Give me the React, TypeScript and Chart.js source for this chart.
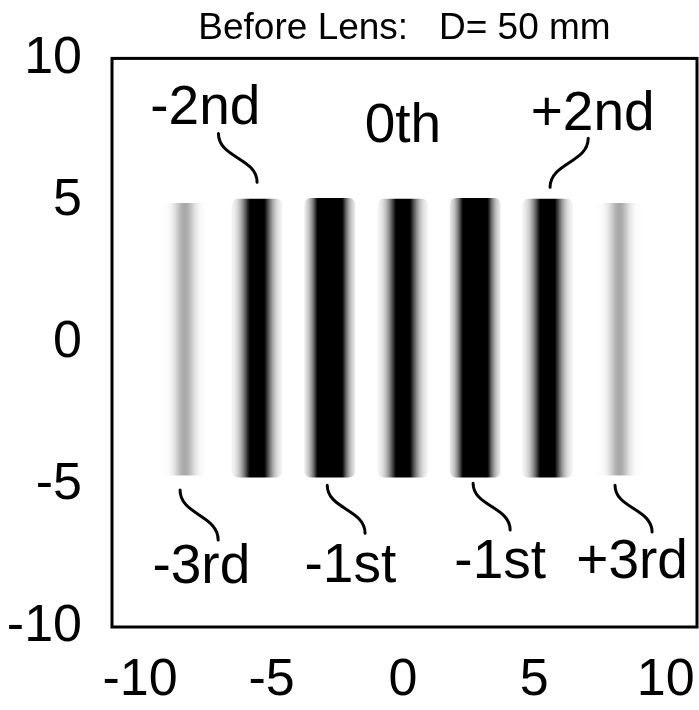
import React, { useEffect, useRef } from "react";
import { Chart, registerables } from "chart.js";

Chart.register(...registerables);

// ---- data ----
const titleText = "Before Lens:   D= 50 mm";
const xTicks = [-10, -5, 0, 5, 10];
const yTicks = [-10, -5, 0, 5, 10];

// diffraction orders (stripes)
const orderNames = ["-3rd", "-2nd", "-1st", "0th", "+1st", "+2nd", "+3rd"];
const stripeCenters = [-8.3, -5.55, -2.78, 0, 2.75, 5.5, 8.23];
const stripeBottom = [-4.66, -4.73, -4.73, -4.73, -4.73, -4.73, -4.66];
const stripeTop = [4.9, 5.05, 5.08, 5.05, 5.08, 5.05, 4.9];
const stripeIntensity = [0.34, 1.35, 2.2, 1.3, 2.2, 1.35, 0.34];

// annotation labels (x centre, baseline y)
const labelTexts = ["-2nd", "0th", "+2nd", "-3rd", "-1st", "-1st", "+3rd"];
const labelX = [-7.52, 0, 7.22, -7.67, -2.0, 3.7, 8.72];
const labelY = [7.71, 7.05, 7.47, -8.45, -8.42, -8.28, -8.28];

// leader curves
const leaderStartX = [-7.02, 7.05, -8.48, -2.88, 2.67, 8.07];
const leaderStartY = [7.36, 7.19, -5.18, -5.01, -4.94, -5.01];
const leaderEndX = [-5.55, 5.6, -7.03, -1.44, 4.08, 9.48];
const leaderEndY = [5.64, 5.47, -6.94, -6.7, -6.59, -6.66];

// ---- styles ----
const FONT = '"Liberation Sans", Arial, Helvetica, sans-serif';
const STRIPE_SIGMA_PX = [7, 9.5, 10, 9.5, 10, 9.5, 7];
const BAR_PX = 50;

const annotPlugin = {
  id: "annot",
  afterDatasetsDraw(chart: any) {
    const { ctx, scales, chartArea } = chart;
    const xs = scales.x;
    const ys = scales.y;
    ctx.save();
    ctx.strokeStyle = "#000";
    ctx.lineWidth = 3;
    ctx.lineCap = "round";
    for (let i = 0; i < leaderStartX.length; i++) {
      const x0 = xs.getPixelForValue(leaderStartX[i]);
      const y0 = ys.getPixelForValue(leaderStartY[i]);
      const x1 = xs.getPixelForValue(leaderEndX[i]);
      const y1 = ys.getPixelForValue(leaderEndY[i]);
      const ym = (y0 + y1) / 2;
      ctx.beginPath();
      ctx.moveTo(x0, y0);
      ctx.bezierCurveTo(x0, ym, x1, ym, x1, y1);
      ctx.stroke();
    }
    ctx.fillStyle = "#000";
    ctx.font = `55px ${FONT}`;
    ctx.textAlign = "center";
    ctx.textBaseline = "alphabetic";
    for (let i = 0; i < labelTexts.length; i++) {
      ctx.fillText(labelTexts[i], xs.getPixelForValue(labelX[i]), ys.getPixelForValue(labelY[i]));
    }
    ctx.lineWidth = 3;
    ctx.strokeRect(chartArea.left, chartArea.top, chartArea.right - chartArea.left, chartArea.bottom - chartArea.top);
    ctx.restore();
  },
};

export default function App() {
  const ref = useRef<HTMLCanvasElement | null>(null);
  useEffect(() => {
    document.body.style.margin = "0";
    const canvas = ref.current;
    if (!canvas) return;
    const chart = new Chart(canvas, {
      type: "bar",
      data: {
        labels: orderNames,
        datasets: [
          {
            label: "intensity",
            data: stripeCenters.map((x, i) => ({ x, y: [stripeBottom[i], stripeTop[i]] })) as any,
            barThickness: BAR_PX,
            borderWidth: 0,
            borderSkipped: false,
            borderRadius: 6,
            backgroundColor: (c: any) => {
              const ch = c.chart;
              if (c.type !== "data" || !ch.chartArea) return "rgba(0,0,0,0)";
              const i = c.dataIndex;
              const cx = ch.scales.x.getPixelForValue(stripeCenters[i]);
              const half = BAR_PX / 2;
              const g = ch.ctx.createLinearGradient(cx - half, 0, cx + half, 0);
              const A = stripeIntensity[i];
              const s = STRIPE_SIGMA_PX[i];
              for (let k = 0; k <= 50; k++) {
                const t = k / 50;
                const d = (t - 0.5) * 2 * half;
                const a = Math.min(1, A * Math.exp(-(d * d) / (2 * s * s)));
                g.addColorStop(t, `rgba(0,0,0,${a.toFixed(3)})`);
              }
              return g;
            },
          } as any,
        ],
      },
      options: {
        responsive: false,
        animation: false,
        events: [],
        layout: { padding: { left: 0, right: 2, top: 0, bottom: 0 } },
        plugins: {
          legend: { display: false },
          tooltip: { enabled: false },
          title: {
            display: true,
            text: titleText,
            fullSize: false,
            color: "#000",
            font: { family: FONT, size: 37, weight: "normal" },
            padding: { top: 7, bottom: 7 },
          },
        },
        scales: {
          x: {
            type: "linear",
            offset: false,
            min: -11.07,
            max: 11.19,
            afterBuildTicks: (s: any) => {
              s.ticks = xTicks.map((v) => ({ value: v }));
            },
            afterFit: (s: any) => {
              s.height = 83;
              s.paddingLeft = 0;
              s.paddingRight = 0;
            },
            grid: { display: false, drawTicks: false, offset: false },
            border: { display: false },
            ticks: { color: "#000", font: { family: FONT, size: 52 }, padding: 22, maxRotation: 0, autoSkip: false },
          },
          y: {
            type: "linear",
            min: -10,
            max: 10,
            afterBuildTicks: (s: any) => {
              s.ticks = yTicks.map((v) => ({ value: v }));
            },
            afterFit: (s: any) => {
              s.width = 112;
              s.paddingTop = 0;
              s.paddingBottom = 0;
            },
            grid: { display: false, drawTicks: false },
            border: { display: false },
            ticks: { color: "#000", font: { family: FONT, size: 52 }, padding: 30, autoSkip: false },
          },
        },
      } as any,
      plugins: [annotPlugin],
    });
    return () => chart.destroy();
  }, []);
  return (
    <div style={{ width: 699, height: 710 }}>
      <canvas ref={ref} width={699} height={710} />
    </div>
  );
}
